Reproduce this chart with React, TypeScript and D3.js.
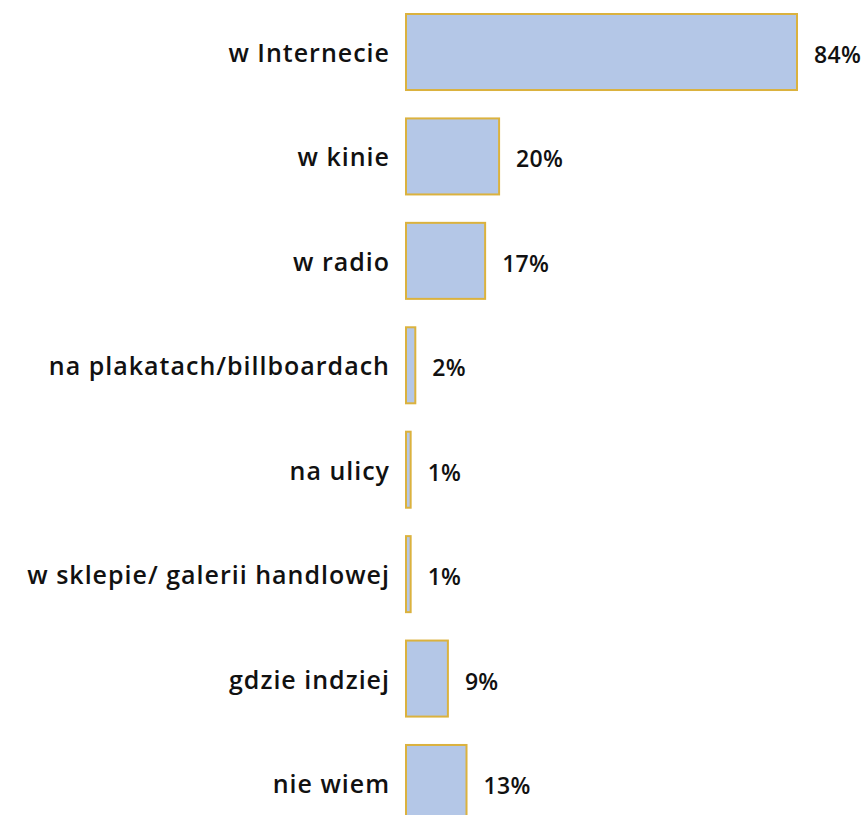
import React from "react";
import * as d3 from "d3";

const categories = [
  "w Internecie",
  "w kinie",
  "w radio",
  "na plakatach/billboardach",
  "na ulicy",
  "w sklepie/ galerii handlowej",
  "gdzie indziej",
  "nie wiem",
];
const values = [84, 20, 17, 2, 1, 1, 9, 13];
const valueLabels = ["84%", "20%", "17%", "2%", "1%", "1%", "9%", "13%"];

const W = 865;
const H = 815;

export default function App() {
  const x = d3.scaleLinear().domain([0, 84]).range([406, 797]);
  const y = d3
    .scaleBand<string>()
    .domain(categories)
    .range([14, 821])
    .paddingInner(0.272)
    .paddingOuter(0);
  const font = "'Open Sans', Roboto, sans-serif";
  return (
    <svg
      width={W}
      height={H}
      style={{ position: "absolute", left: 0, top: 0 }}
    >
      {categories.map((c, i) => {
        const y0 = y(c)!;
        const bh = y.bandwidth();
        const xe = x(values[i]);
        return (
          <g key={c}>
            <rect
              x={x(0)}
              y={y0}
              width={xe - x(0)}
              height={bh}
              fill="#b4c7e7"
              stroke="#dbb23e"
              strokeWidth={2}
            />
            <text
              x={390}
              y={y0 + bh / 2 + 10}
              textAnchor="end"
              fontFamily={font}
              fontWeight={600}
              fontSize={25}
              letterSpacing={1}
              fill="#111"
            >
              {c}
            </text>
            <text
              x={xe + 17}
              y={y0 + bh / 2 + 11}
              textAnchor="start"
              fontFamily={font}
              fontWeight={600}
              fontSize={23}
              letterSpacing={0.3}
              fill="#111"
            >
              {valueLabels[i]}
            </text>
          </g>
        );
      })}
    </svg>
  );
}
